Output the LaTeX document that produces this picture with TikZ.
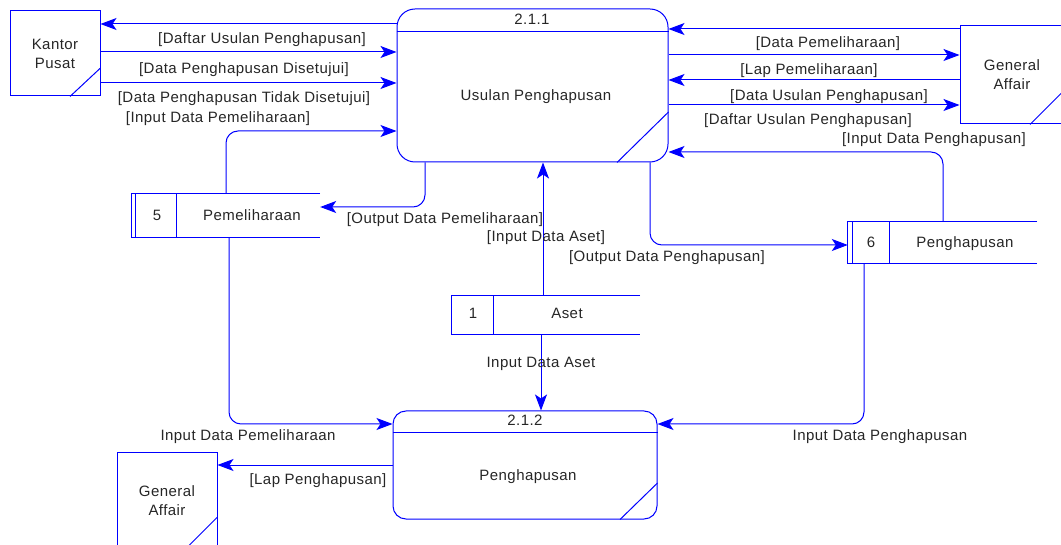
\documentclass[tikz,border=0pt]{standalone}
\usepackage{fontspec}
\setmainfont{Liberation Sans}[LetterSpace=3.0]
\usetikzlibrary{arrows.meta,calc}
\begin{document}
\begin{tikzpicture}[x=1pt,y=-1pt,
  line/.style={draw=blue, line width=1pt},
  flow/.style={line, rounded corners=12pt, -{Stealth[length=16pt,width=12pt,inset=4pt]}},
  txt/.style={text=black!85, font=\fontsize{15}{19}\selectfont, inner sep=0pt,
              text height=11pt, text depth=3.5pt},
  entity/.style={rectangle, line, inner sep=0pt, text=black!85,
                 font=\fontsize{15}{19}\selectfont, align=center},
  proc/.style={rectangle, line, inner sep=0pt},
  store/.style={rectangle, inner sep=0pt}
]
\useasboundingbox (0,0) rectangle (1061,545);

% ---------- processes ----------
\node[proc, rounded corners=18pt, minimum width=271pt, minimum height=153pt] (p211) at (532.5,85.5) {};
\draw[line] (p211.west |- 0,32) -- (p211.east |- 0,32);
\draw[line] (p211.east |- 0,112) -- (p211.south -| 617,0);
\node[txt] (p211id) at (532,21) {2.1.1};
\node[txt] (p211nm) at (536,97) {Usulan Penghapusan};

\node[proc, rounded corners=13pt, minimum width=264pt, minimum height=108pt] (p212) at (525,465) {};
\draw[line] (p212.west |- 0,433) -- (p212.east |- 0,433);
\draw[line] (p212.east |- 0,483) -- (p212.south -| 620,0);
\node[txt] (p212id) at (525,422) {2.1.2};
\node[txt] (p212nm) at (528,477) {Penghapusan};

% ---------- external entities ----------
\node[entity, minimum width=90pt, minimum height=85pt] (kp) at (55,53.5) {Kantor\\Pusat};
\draw[line] (kp.east |- 0,68) -- (kp.south -| 70,0);

\node[entity, minimum width=104pt, minimum height=98pt] (ga1) at (1012,75) {General\\Affair};
\draw[line] (ga1.east |- 0,90) -- (ga1.south -| 1030,0);

\node[entity, minimum width=100pt, minimum height=98pt] (ga2) at (167,501) {General\\Affair};
\draw[line] (ga2.east |- 0,517) -- (ga2.south -| 184,0);

% ---------- data stores ----------
\node[store, minimum width=188pt, minimum height=43pt] (s5) at (226,215.5) {};
\draw[line] (s5.north east) -- (s5.north west) -- (s5.south west) -- (s5.south east);
\draw[line] ($(s5.north west)+(4,0)$) -- ($(s5.south west)+(4,0)$);
\draw[line] (s5.north -| 176,0) -- (s5.south -| 176,0);
\node[txt] (s5id) at (157,217) {5};
\node[txt] (s5nm) at (252,217) {Pemeliharaan};

\node[store, minimum width=189pt, minimum height=41pt] (s6) at (942.5,242.5) {};
\draw[line] (s6.north east) -- (s6.north west) -- (s6.south west) -- (s6.south east);
\draw[line] ($(s6.north west)+(5,0)$) -- ($(s6.south west)+(5,0)$);
\draw[line] (s6.north -| 889,0) -- (s6.south -| 889,0);
\node[txt] (s6id) at (871,244) {6};
\node[txt] (s6nm) at (965,244) {Penghapusan};

\node[store, minimum width=188pt, minimum height=38pt] (s1) at (546,315) {};
\draw[line] (s1.north east) -- (s1.north west) -- (s1.south west) -- (s1.south east);
\draw[line] (s1.north -| 493,0) -- (s1.south -| 493,0);
\node[txt] (s1id) at (473,315) {1};
\node[txt] (s1nm) at (567,315) {Aset};

% ---------- flows: Kantor Pusat ----------
\draw[flow] (p211.west |- 0,24) -- (kp.east |- 0,24);
\draw[flow] (kp.east |- 0,52) -- (p211.west |- 0,52);
\draw[flow] (kp.east |- 0,83) -- (p211.west |- 0,83);

% ---------- flows: General Affair ----------
\draw[flow] (ga1.west |- 0,29) -- (p211.east |- 0,29);
\draw[flow] (p211.east |- 0,55) -- (ga1.west |- 0,55);
\draw[flow] (ga1.west |- 0,80) -- (p211.east |- 0,80);
\draw[flow] (p211.east |- 0,105) -- (ga1.west |- 0,105);

% ---------- flows: data stores and 2.1.1 ----------
\draw[flow] (s5.north -| 226,0) |- (p211.west |- 0,131);
\draw[flow] (p211.south -| 425,0) |- (s5.east |- 0,207);
\draw[flow] (s1.north -| 543,0) -- (p211.south -| 543,0);
\draw[flow] (p211.south -| 650,0) |- (s6.west |- 0,245);
\draw[flow] (s6.north -| 943,0) |- (p211.east |- 0,152);

% ---------- flows: 2.1.2 ----------
\draw[flow] (s1.south -| 541,0) -- (p212.north -| 541,0);
\draw[flow] (s5.south -| 229,0) |- (p212.west |- 0,424);
\draw[flow] (s6.south -| 864,0) |- (p212.east |- 0,424);
\draw[flow] (p212.west |- 0,465) -- (ga2.east |- 0,465);

% ---------- flow labels ----------
\node[txt] (l1) at (262,40) {[Daftar Usulan Penghapusan]};
\node[txt] (l2) at (244,70) {[Data Penghapusan Disetujui]};
\node[txt] (l3) at (244,99) {[Data Penghapusan Tidak Disetujui]};
\node[txt] (l4) at (218,119) {[Input Data Pemeliharaan]};
\node[txt] (l5) at (445,220) {[Output Data Pemeliharaan]};
\node[txt] (l6) at (546,238) {[Input Data Aset]};
\node[txt] (l7) at (667,258) {[Output Data Penghapusan]};
\node[txt] (l8) at (934,140) {[Input Data Penghapusan]};
\node[txt] (l9) at (828,44) {[Data Pemeliharaan]};
\node[txt] (l10) at (809,71) {[Lap Pemeliharaan]};
\node[txt] (l11) at (829,97) {[Data Usulan Penghapusan]};
\node[txt] (l12) at (808,121) {[Daftar Usulan Penghapusan]};
\node[txt] (l13) at (541,364) {Input Data Aset};
\node[txt] (l14) at (248,437) {Input Data Pemeliharaan};
\node[txt] (l15) at (318,481) {[Lap Penghapusan]};
\node[txt] (l16) at (880,437) {Input Data Penghapusan};
\end{tikzpicture}
\end{document}
